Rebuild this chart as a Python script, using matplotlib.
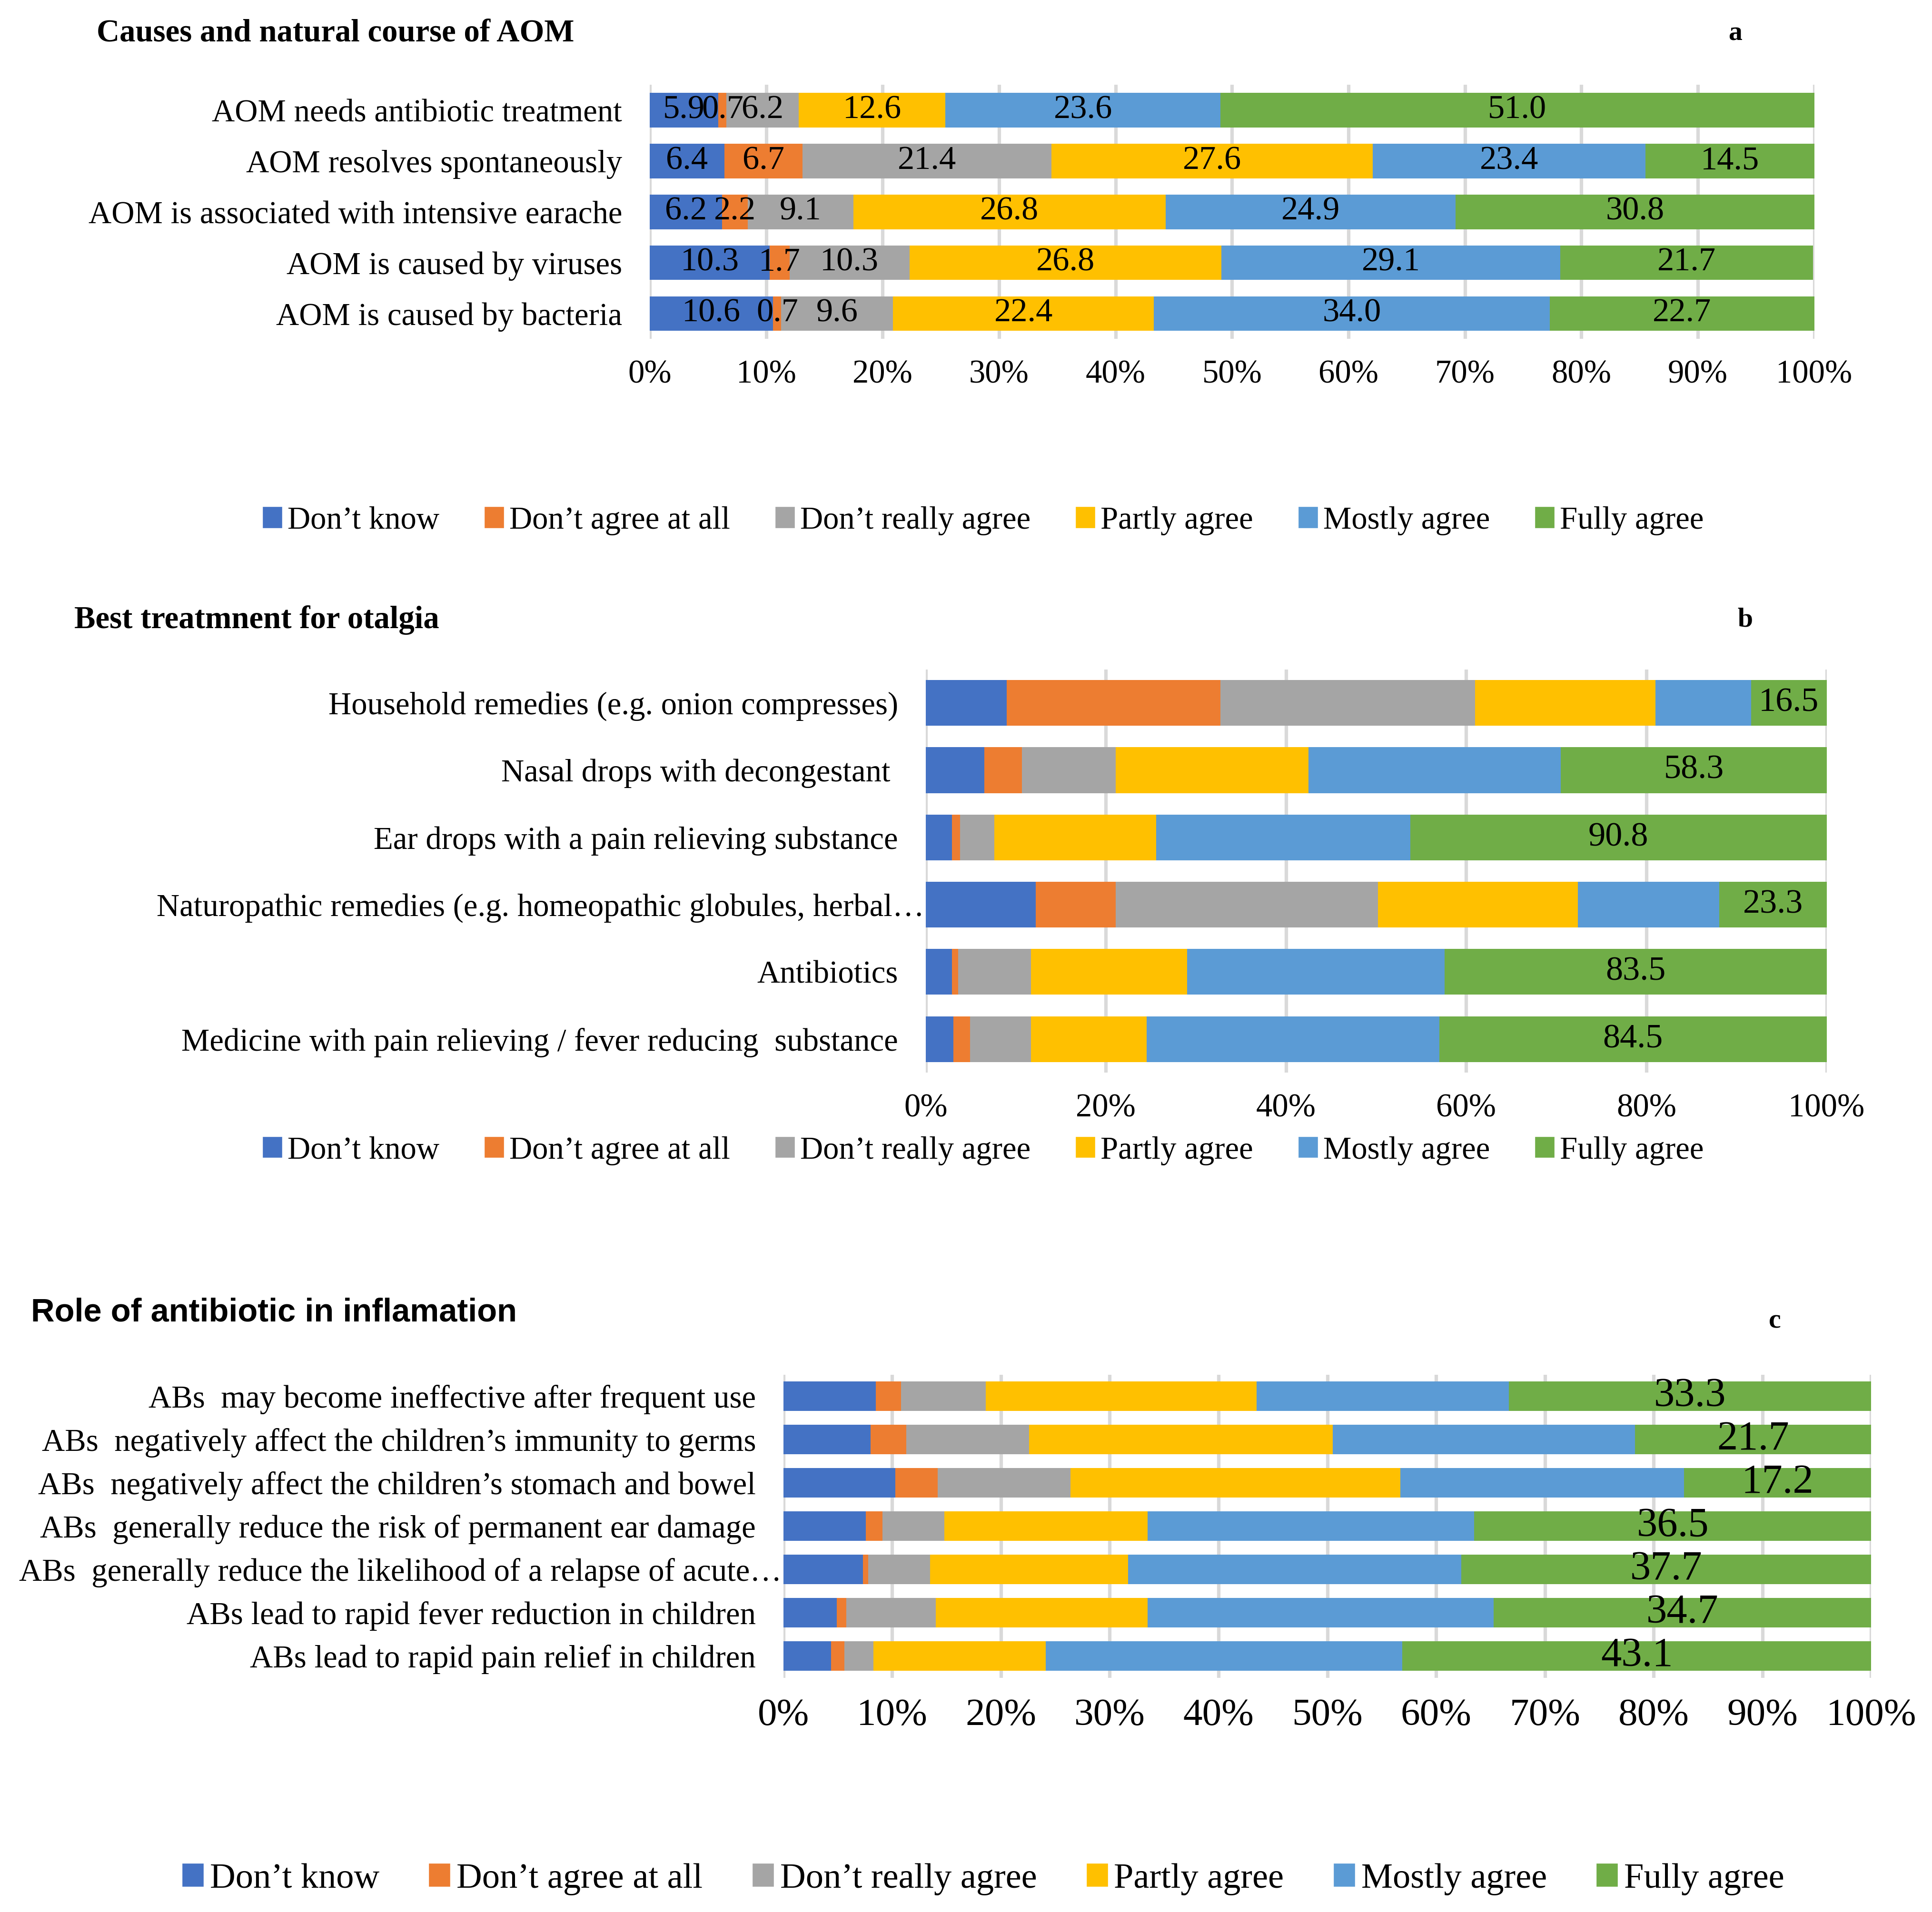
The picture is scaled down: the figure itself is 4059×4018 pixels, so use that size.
import numpy as np
import matplotlib.pyplot as plt
from matplotlib.transforms import ScaledTranslation

# Series names and colours (Excel default palette)
series_names = ['Don’t know', 'Don’t agree at all', 'Don’t really agree',
                'Partly agree', 'Mostly agree', 'Fully agree']
series_colors = ['#4472C4', '#ED7D31', '#A5A5A5', '#FFC000', '#5B9BD5', '#70AD47']

# Panel a - causes and natural course of AOM (top to bottom)
cat_a = ['AOM needs antibiotic treatment', 'AOM resolves spontaneously',
         'AOM is associated with intensive earache', 'AOM is caused by viruses',
         'AOM is caused by bacteria']
dont_know_a = [5.9, 6.4, 6.2, 10.3, 10.6]
not_at_all_a = [0.7, 6.7, 2.2, 1.7, 0.7]
not_really_a = [6.2, 21.4, 9.1, 10.3, 9.6]
partly_a = [12.6, 27.6, 26.8, 26.8, 22.4]
mostly_a = [23.6, 23.4, 24.9, 29.1, 34.0]
fully_a = [51.0, 14.5, 30.8, 21.7, 22.7]

# Panel b - best treatment for otalgia (top to bottom, % of respondents)
cat_b = ['Household remedies (e.g. onion compresses)', 'Nasal drops with decongestant ',
         'Ear drops with a pain relieving substance',
         'Naturopathic remedies (e.g. homeopathic globules, herbal…',
         'Antibiotics', 'Medicine with pain relieving / fever reducing  substance']
dont_know_b = [9.0, 6.5, 2.9, 12.2, 2.9, 3.1]
not_at_all_b = [23.7, 4.2, 0.9, 8.9, 0.7, 1.8]
not_really_b = [28.3, 10.4, 3.8, 29.1, 8.1, 6.8]
partly_b = [20.0, 21.4, 18.0, 22.2, 17.3, 12.8]
mostly_b = [10.6, 28.0, 28.2, 15.7, 28.6, 32.5]
fully_b = [8.4, 29.5, 46.2, 11.9, 42.4, 43.0]
fully_b_labels = ['16.5', '58.3', '90.8', '23.3', '83.5', '84.5']

# Panel c - role of antibiotics (top to bottom)
cat_c = ['ABs  may become ineffective after frequent use',
         'ABs  negatively affect the children’s immunity to germs',
         'ABs  negatively affect the children’s stomach and bowel',
         'ABs  generally reduce the risk of permanent ear damage',
         'ABs  generally reduce the likelihood of a relapse of acute…',
         'ABs lead to rapid fever reduction in children',
         'ABs lead to rapid pain relief in children']
dont_know_c = [8.5, 8.0, 10.3, 7.6, 7.3, 4.9, 4.4]
not_at_all_c = [2.3, 3.3, 3.9, 1.5, 0.5, 0.9, 1.2]
not_really_c = [7.8, 11.3, 12.2, 5.7, 5.7, 8.2, 2.7]
partly_c = [24.9, 27.9, 30.3, 18.7, 18.2, 19.5, 15.8]
mostly_c = [23.2, 27.8, 26.1, 30.0, 30.6, 31.8, 32.8]
fully_c = [33.3, 21.7, 17.2, 36.5, 37.7, 34.7, 43.1]

plt.rcParams['font.family'] = ['Liberation Serif', 'DejaVu Serif']

W = 4059 / 2.6
H = 4018 / 2.6
fig = plt.figure(figsize=(4059 / 260, 4018 / 260), dpi=260)


def axes_at(x0, x1, y0, y1):
    # pixel box (top-left origin) -> figure axes
    return fig.add_axes([x0 / W, 1 - y1 / H, (x1 - x0) / W, (y1 - y0) / H])


def stacked(ax, cats, data, step, tick_fs, cat_fs, lab_fs, labels=None, all_labels=False):
    y = np.arange(len(cats))
    left = np.zeros(len(cats))
    for i, vals in enumerate(data):
        vals = np.array(vals)
        bars = ax.barh(y, vals, left=left, height=0.68, color=series_colors[i], zorder=3)
        if all_labels:
            ax.bar_label(bars, labels=[f'{v:.1f}' for v in vals], label_type='center',
                         fontsize=lab_fs, zorder=4)
        elif i == 5:
            txt = labels if labels is not None else [f'{v:.1f}' for v in vals]
            ax.bar_label(bars, labels=txt, label_type='center', fontsize=lab_fs, zorder=4)
        left += vals
    ax.set_xlim(0, 100)
    ax.set_ylim(len(cats) - 0.5, -0.5)
    ax.set_yticks(y)
    ax.set_yticklabels(cats, fontsize=cat_fs)
    ax.set_xticks(np.arange(0, 100.1, step))
    ax.set_xticklabels([f'{int(t)}%' for t in np.arange(0, 100.1, step)], fontsize=tick_fs)
    ax.grid(axis='x', color='#D9D9D9', linewidth=2.0, zorder=0)
    ax.tick_params(length=0)
    ax.tick_params(axis='x', pad=12)
    ax.tick_params(axis='y', pad=16)
    for s in ax.spines.values():
        s.set_visible(False)


def nudge(ax, idx, dx):
    # truncated labels sit right against the axis, as in the original
    lbl = ax.get_yticklabels()[idx]
    lbl.set_transform(lbl.get_transform() + ScaledTranslation(dx, 0, fig.dpi_scale_trans))


def legend_at(cx, cy, fs, spacing):
    handles = [plt.Rectangle((0, 0), 1, 1, color=c) for c in series_colors]
    fig.legend(handles, series_names, loc='center', bbox_to_anchor=(cx / W, 1 - cy / H),
               ncol=6, frameon=False, fontsize=fs, handlelength=0.55, handleheight=0.55,
               handletextpad=0.2, columnspacing=spacing)


# panel a
ax_a = axes_at(525, 1466, 68.5, 274)
stacked(ax_a, cat_a, [dont_know_a, not_at_all_a, not_really_a, partly_a, mostly_a, fully_a],
        10, 19, 18.5, 19.5, all_labels=True)
fig.text(78 / W, 1 - 27 / H, 'Causes and natural course of AOM', fontsize=18.5,
         fontweight='bold', va='center')
fig.text(1402 / W, 1 - 27 / H, 'a', fontsize=16, fontweight='bold', va='center', ha='center')
legend_at(795, 421, 18.5, 1.45)

# panel b
ax_b = axes_at(748, 1476, 541, 867)
stacked(ax_b, cat_b, [dont_know_b, not_at_all_b, not_really_b, partly_b, mostly_b, fully_b],
        20, 19, 18.5, 20, labels=fully_b_labels)
nudge(ax_b, 3, 0.21)
fig.text(60 / W, 1 - 501 / H, 'Best treatmnent for otalgia', fontsize=18.5,
         fontweight='bold', va='center')
fig.text(1410 / W, 1 - 501 / H, 'b', fontsize=16, fontweight='bold', va='center', ha='center')
legend_at(795, 930, 18.5, 1.45)

# panel c
ax_c = axes_at(633, 1512, 1111, 1356)
stacked(ax_c, cat_c, [dont_know_c, not_at_all_c, not_really_c, partly_c, mostly_c, fully_c],
        10, 22.5, 18.5, 24)
nudge(ax_c, 4, 0.21)
fig.text(25 / W, 1 - 1061 / H, 'Role of antibiotic in inflamation', fontsize=19,
         fontweight='bold', va='center', family=['Liberation Sans', 'DejaVu Sans'])
fig.text(1434 / W, 1 - 1068 / H, 'c', fontsize=16, fontweight='bold', va='center', ha='center')
legend_at(795, 1519, 20.6, 1.43)

fig.savefig('out.png', dpi=260)
